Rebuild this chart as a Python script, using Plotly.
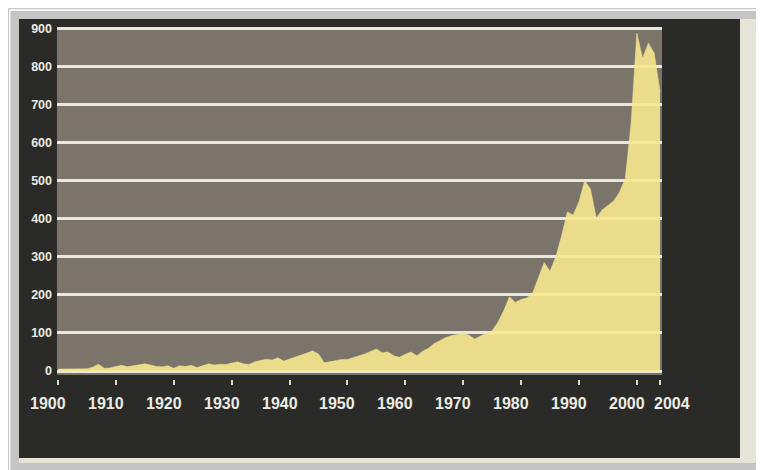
import plotly.graph_objects as go

# ---------------- data ----------------
years = list(range(1900, 2005))
values = [
    5, 5, 6, 5, 5, 6, 10, 18, 7, 8,            # 1900-1909
    12, 15, 11, 14, 17, 19, 16, 12, 11, 14,    # 1910-1919
    7, 14, 12, 15, 9, 14, 19, 16, 18, 17,      # 1920-1929
    20, 24, 19, 17, 24, 28, 31, 29, 35, 26,    # 1930-1939
    31, 35, 40, 47, 53, 45, 22, 25, 28, 30,    # 1940-1949
    30, 34, 40, 45, 52, 58, 48, 50, 40, 36,    # 1950-1959
    44, 50, 40, 52, 60, 72, 80, 88, 93, 97,    # 1960-1969
    99, 94, 84, 92, 98, 106, 128, 158, 195, 180,   # 1970-1979
    188, 192, 205, 245, 285, 262, 300, 355, 418, 410,  # 1980-1989
    445, 500, 478, 402, 423, 435, 447, 470, 505, 650,  # 1990-1999
    888, 822, 862, 835, 735,                   # 2000-2004
]
ytick_vals = [0, 100, 200, 300, 400, 500, 600, 700, 800, 900]
xtick_vals = [1900, 1910, 1920, 1930, 1940, 1950, 1960, 1970, 1980, 1990, 2000, 2004]
xtick_text = ["1900", "1910", "1920", "1930", "1940", "1950", "1960", "1970",
              "1980", "1990", "2000", "2004"]

# ---------------- geometry (screen pixels; page body adds an 8px offset) ----------------
OFF = 8
W, H = 764 - OFF, 470 - OFF
S_LEFT, S_RIGHT, S_TOP, S_AXIS = 57, 662, 27, 379   # plotting area on screen
S_PLOT_BOTTOM = 375                                # bottom of the grey area
ML = S_LEFT - OFF
MR = W - (S_RIGHT - OFF)
MT = S_TOP - OFF
MB = H - (S_AXIS - OFF)
PW, PH = W - ML - MR, H - MT - MB


def px(sx):
    return (sx - OFF - ML) / PW


def py(sy):
    return (H - MB - (sy - OFF)) / PH


def rect(x0, y0, x1, y1, color):
    return dict(type="rect", xref="paper", yref="paper",
                x0=px(x0), x1=px(x1), y0=py(y1), y1=py(y0),
                fillcolor=color, line=dict(width=0), layer="below")


shapes = [
    rect(8, 8, 780, 480, "#c8c8c8"),
    rect(9.2, 9.2, 780, 480, "#ffffff"),
    rect(10.5, 11, 780, 480, "#c4c4c4"),
    rect(19, 19, 780, 463, "#e6e4d8"),
    rect(19, 19, 740, 458, "#2a2b28"),
    rect(S_LEFT, S_TOP, S_RIGHT, S_PLOT_BOTTOM, "#7a746a"),
]

fig = go.Figure()
fig.add_trace(go.Scatter(
    x=years, y=values, mode="lines", fill="tozeroy",
    line=dict(color="rgba(246,232,142,0.9)", width=0.5),
    fillcolor="rgba(246,232,142,0.9)",
    hoverinfo="skip", showlegend=False,
))

label_shift = {y: -10 for y in xtick_vals}
label_shift[2004] = 12
annotations = []
for yr, txt in zip(xtick_vals, xtick_text):
    annotations.append(dict(
        x=yr, xref="x", y=py(403), yref="paper", text=txt, showarrow=False,
        xanchor="center", yanchor="middle", xshift=label_shift[yr],
        font=dict(family="Liberation Sans, Arial, sans-serif",
                  size=16, color="#ecece4", weight="bold"),
    ))

fig.update_layout(
    width=W, height=H,
    margin=dict(l=ML, r=MR, t=MT, b=MB, pad=0),
    paper_bgcolor="#ffffff",
    plot_bgcolor="rgba(0,0,0,0)",
    shapes=shapes,
    annotations=annotations,
    xaxis=dict(
        range=[1899.83, 2004.35], anchor="free", position=0,
        tickmode="array", tickvals=xtick_vals, ticktext=["" for _ in xtick_vals],
        ticks="outside", ticklen=5, tickwidth=2, tickcolor="#d8d8d0",
        showgrid=False, zeroline=False, showline=False,
    ),
    yaxis=dict(
        domain=[(S_AXIS - S_PLOT_BOTTOM) / PH, 1],
        range=[-10.5, 903.9],
        tickmode="array", tickvals=ytick_vals,
        showgrid=True, gridcolor="#e8e8e0", gridwidth=2.5,
        zeroline=False, showline=False, ticks="",
        ticklabelstandoff=4,
        tickfont=dict(family="Liberation Sans, Arial, sans-serif", size=12.5,
                      color="#ecece4", weight="bold"),
    ),
)

fig.write_html("out.html")
